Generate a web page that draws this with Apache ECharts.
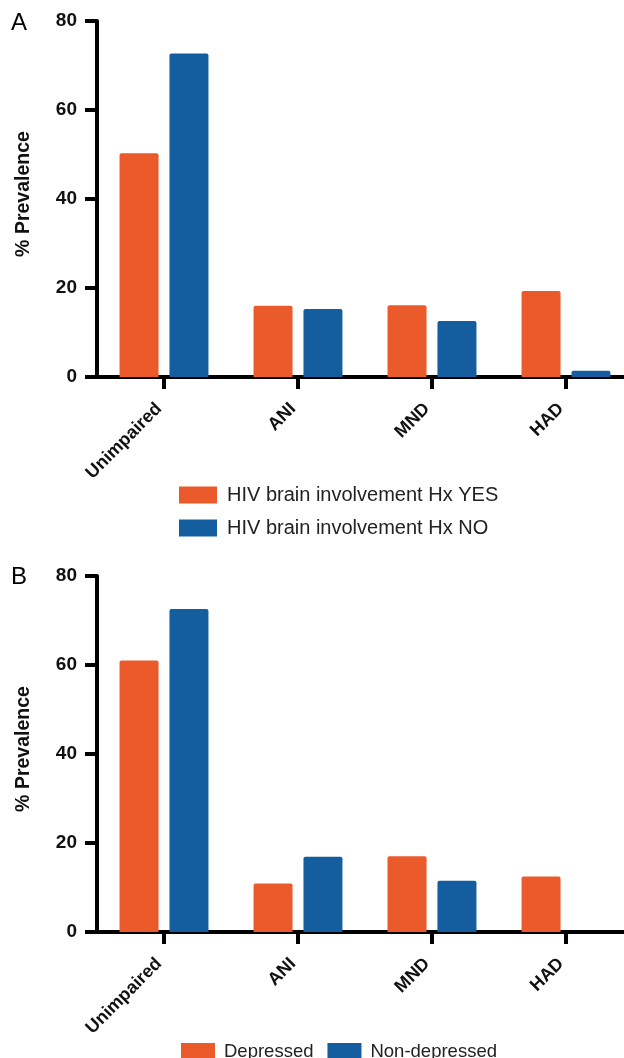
<!DOCTYPE html>
<html><head><meta charset="utf-8">
<script src="https://cdn.jsdelivr.net/npm/echarts@6/dist/echarts.min.js"></script>
<style>html,body{margin:0;padding:0;background:#fff;overflow:hidden;width:624px;height:1058px}#c{width:650px;height:1058px}</style>
</head><body><div id="c"></div>
<script>
const categories = ['Unimpaired', 'ANI', 'MND', 'HAD'];
const yTicks = [0, 20, 40, 60, 80];
const namesA = ['HIV brain involvement Hx YES', 'HIV brain involvement Hx NO'];
const hxYes = [50.3, 16.0, 16.1, 19.3];
const hxNo = [72.7, 15.3, 12.6, 1.4];
const namesB = ['Depressed', 'Non-depressed'];
const depressed = [61.0, 10.9, 17.0, 12.5];
const nonDepressed = [72.6, 16.9, 11.5, 0];

const ORANGE = '#EA5A2B', BLUE = '#145EA0';
const FONT = 'Liberation Sans, Arial, sans-serif';

function xAxis(gi) {
  return {
    type: 'category', gridIndex: gi, data: categories,
    axisLine: { lineStyle: { color: '#000', width: 4 } },
    axisTick: { show: true, alignWithLabel: true, length: 12, lineStyle: { color: '#000', width: 4 } },
    axisLabel: { rotate: 45, margin: 24, padding: [0, 7, 0, 0], color: '#111', fontFamily: FONT, fontWeight: 'bold', fontSize: 18 }
  };
}
function yAxis(gi) {
  return {
    type: 'value', gridIndex: gi, min: yTicks[0], max: yTicks[yTicks.length - 1], interval: 20,
    name: '% Prevalence', nameLocation: 'middle', nameRotate: 90, nameGap: 63,
    nameTextStyle: { color: '#111', fontFamily: FONT, fontWeight: 'bold', fontSize: 19.5, padding: [0, 0, 0, 10] },
    axisLine: { show: true, lineStyle: { color: '#000', width: 4 } },
    axisTick: { show: true, length: 12, lineStyle: { color: '#000', width: 4 } },
    axisLabel: { margin: 20, color: '#111', fontFamily: FONT, fontWeight: 'bold', fontSize: 19 },
    splitLine: { show: false }
  };
}
function bar(name, data, color, gi) {
  return {
    type: 'bar', name, data, xAxisIndex: gi, yAxisIndex: gi,
    barWidth: 39, barGap: '28%',
    itemStyle: { color, borderRadius: [2, 2, 0, 0] }
  };
}

const chart = echarts.init(document.getElementById('c'), null, { renderer: 'canvas' });
chart.setOption({
  animation: false,
  backgroundColor: '#fff',
  grid: [
    { left: 97, top: 21, width: 536, height: 356 },
    { left: 97, top: 576, width: 536, height: 356 }
  ],
  xAxis: [xAxis(0), xAxis(1)],
  yAxis: [yAxis(0), yAxis(1)],
  legend: [
    { data: namesA, orient: 'vertical', left: 174, top: 480, itemWidth: 38, itemHeight: 17, itemGap: 13,
      icon: 'rect', textStyle: { fontFamily: FONT, fontSize: 20, color: '#222', padding: [0, 0, 0, 5] } },
    { data: namesB, orient: 'horizontal', left: 176, top: 1037, itemWidth: 34, itemHeight: 17, itemGap: 14,
      icon: 'rect', textStyle: { fontFamily: FONT, fontSize: 18.5, color: '#222', padding: [0, 0, 0, 4] } }
  ],
  graphic: [
    { type: 'text', left: 11, top: 11, style: { text: 'A', font: '24px ' + FONT, fill: '#000' } },
    { type: 'text', left: 11, top: 565, style: { text: 'B', font: '24px ' + FONT, fill: '#000' } }
  ],
  series: [
    bar(namesA[0], hxYes, ORANGE, 0),
    bar(namesA[1], hxNo, BLUE, 0),
    bar(namesB[0], depressed, ORANGE, 1),
    bar(namesB[1], nonDepressed, BLUE, 1)
  ]
});
</script></body></html>
